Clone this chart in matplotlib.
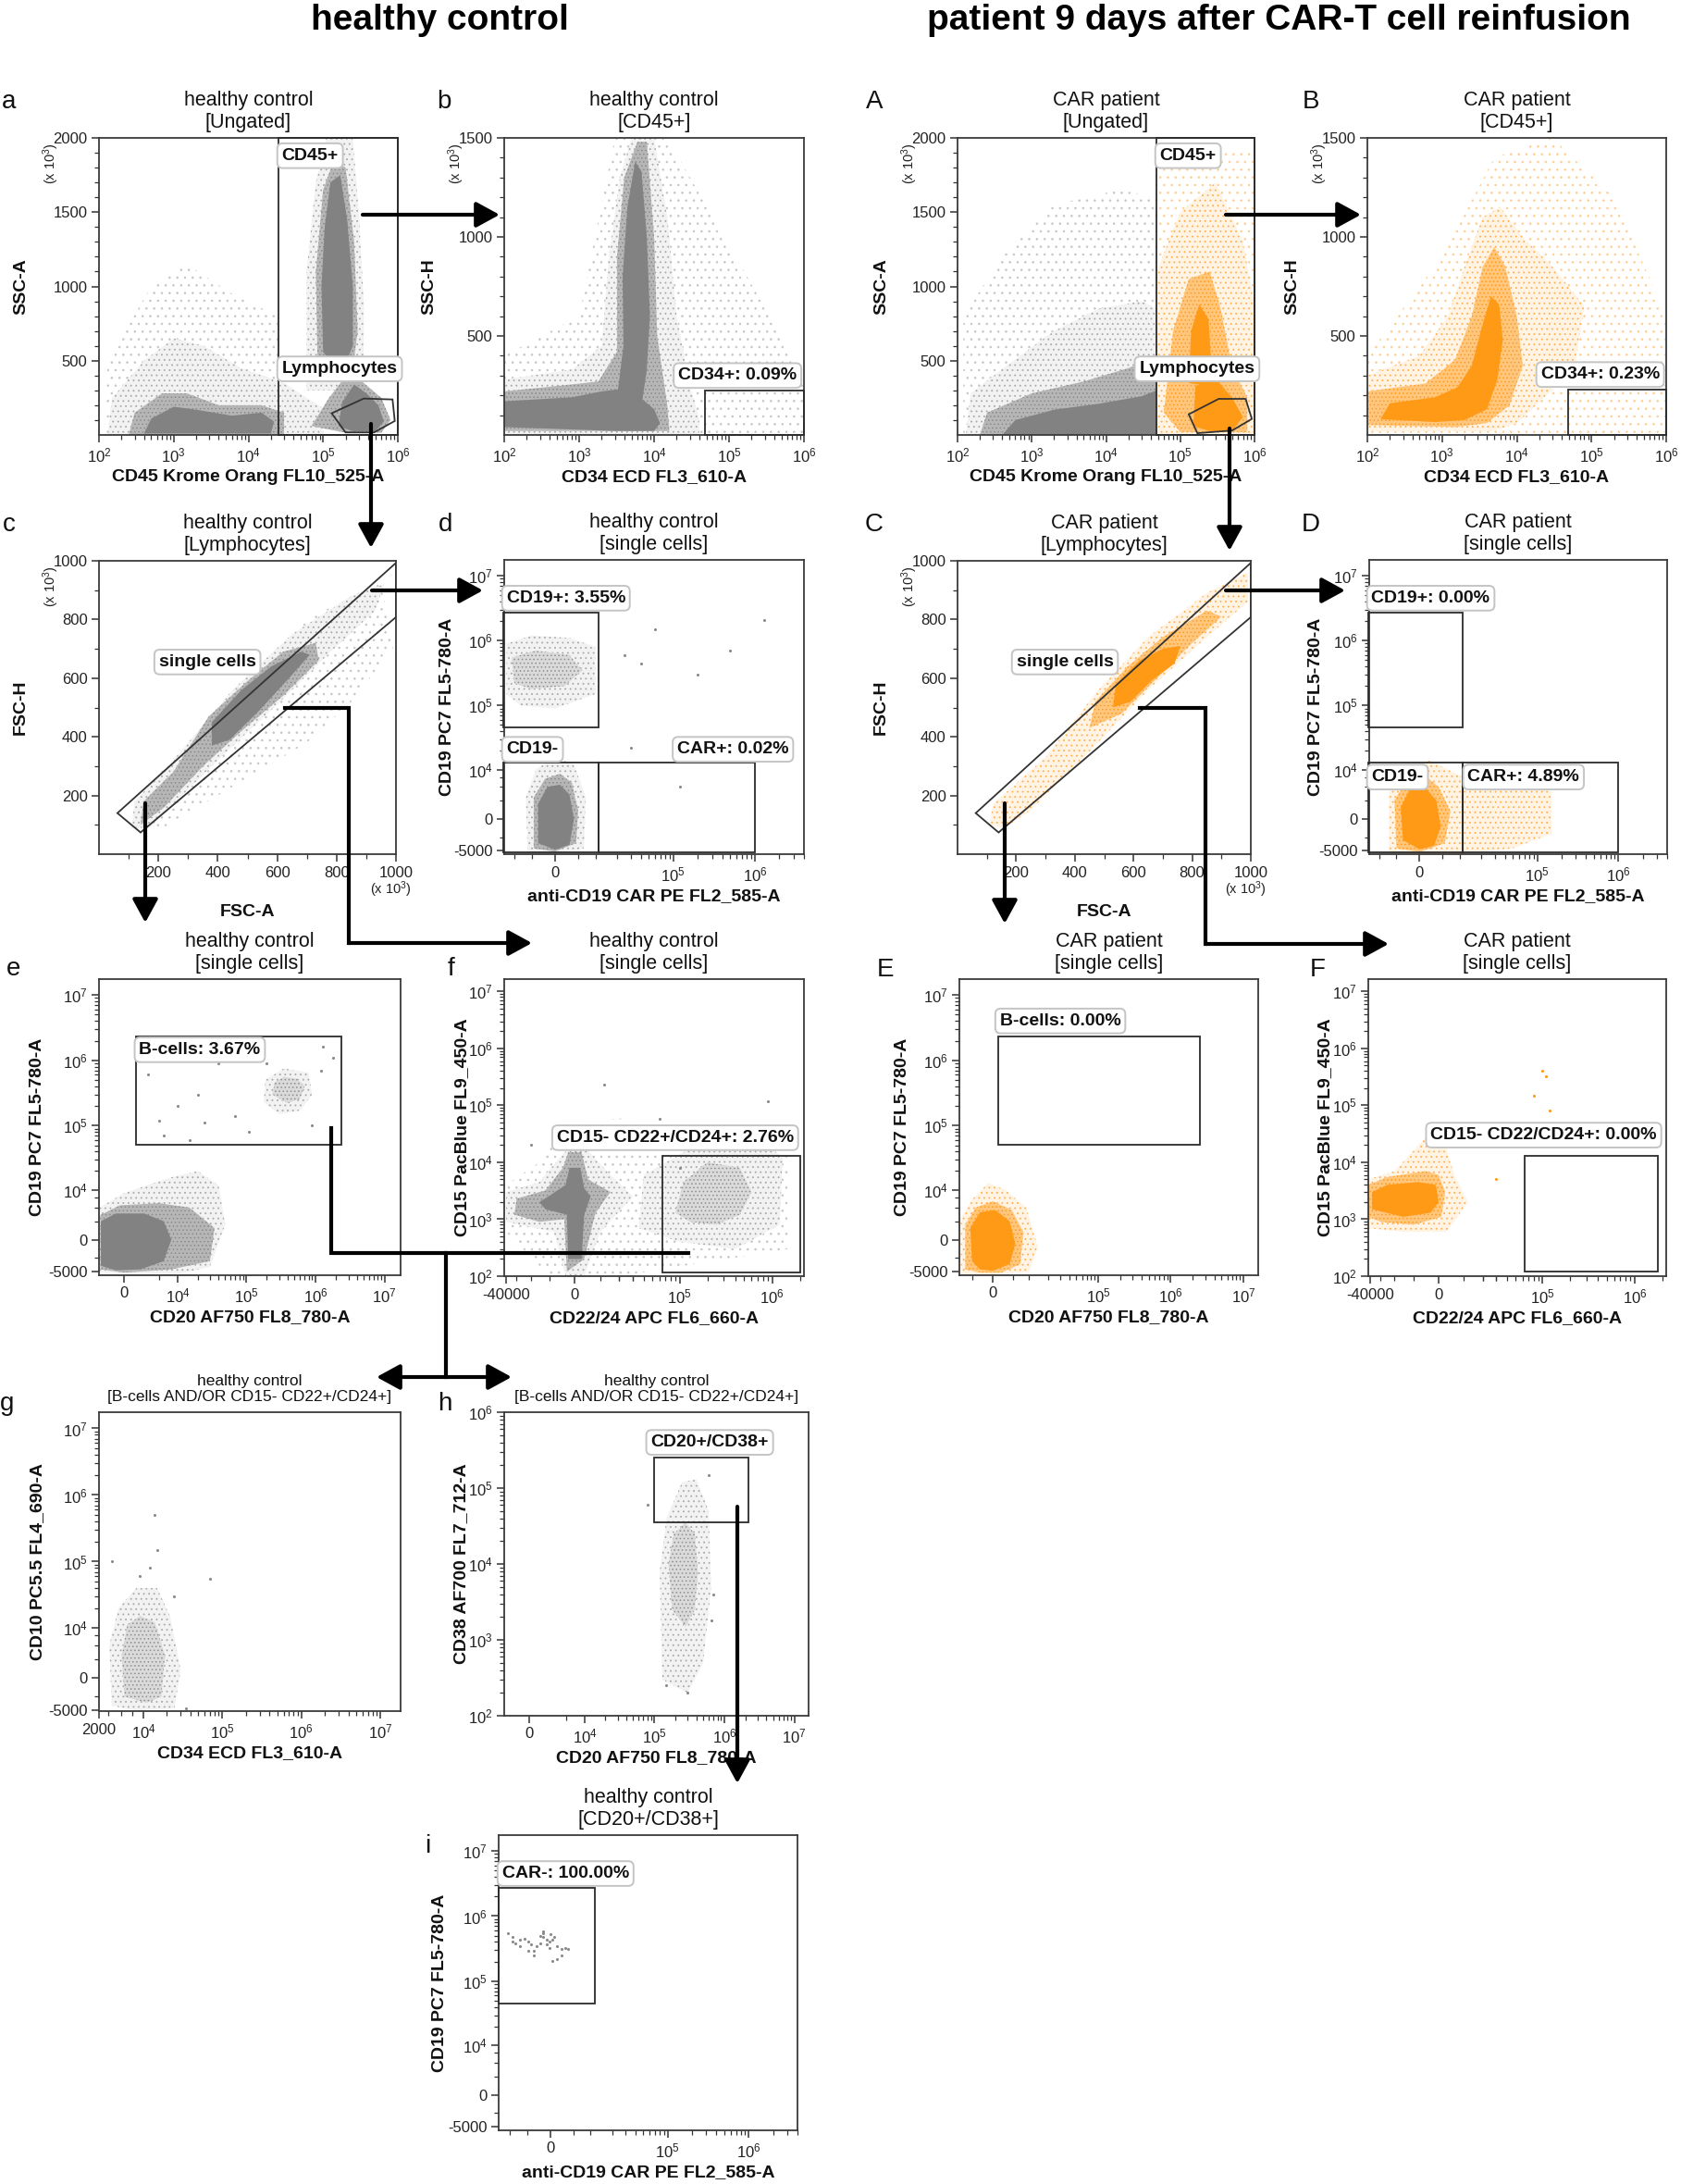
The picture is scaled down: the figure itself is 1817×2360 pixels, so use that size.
import numpy as np
import matplotlib
matplotlib.use("Agg")
import matplotlib.pyplot as plt
from matplotlib.patches import Polygon
from matplotlib.ticker import NullFormatter

W, H = 1817, 2360
plt.rcParams["font.family"] = ["Liberation Sans", "DejaVu Sans"]
plt.rcParams["mathtext.default"] = "regular"
plt.rcParams["hatch.linewidth"] = 0.6

# ---------------- populations (data units) ----------------
# a : healthy control, ungated (CD45 log / SSC-A x1000)
a_sparse = [(1.2e2, 0), (1.3e2, 500), (5e2, 1000), (1.5e3, 1150), (6e3, 950), (2.5e4, 800), (2.5e4, 0)]
a_debris_halo = [(1.3e2, 0), (1.5e2, 250), (4e2, 500), (1e3, 650), (2.5e3, 600), (8e3, 450), (3e4, 350), (6e4, 250), (1e5, 180), (1e5, 0)]
a_debris_mid = [(2.5e2, 0), (3e2, 150), (7e2, 280), (1.5e3, 280), (4e3, 200), (1.5e4, 200), (3e4, 150), (3e4, 0)]
a_debris_core = [(4e2, 10), (5e2, 110), (1e3, 190), (2e3, 170), (6e3, 130), (1.5e4, 150), (2.2e4, 90), (2e4, 10)]
a_gran_halo = [(6e4, 300), (6e4, 1100), (8e4, 1700), (1.1e5, 2000), (2.5e5, 2000), (3e5, 1500), (3.5e5, 900), (3.5e5, 300)]
a_gran_mid = [(8.5e4, 400), (8e4, 1100), (1e5, 1650), (1.4e5, 1850), (2e5, 1800), (2.6e5, 1300), (2.9e5, 700), (2.4e5, 380), (1.3e5, 360)]
a_gran_core = [(1.0e5, 560), (9.5e4, 1000), (1.05e5, 1400), (1.25e5, 1700), (1.7e5, 1750), (2.1e5, 1450), (2.5e5, 1000), (2.5e5, 600), (2e5, 480), (1.4e5, 470)]
a_lymph_mid = [(7e4, 60), (1.2e5, 250), (2.2e5, 420), (3.5e5, 350), (6e5, 250), (8e5, 100), (6e5, 15), (2e5, 15)]
a_lymph_core = [(1.6e5, 60), (1.8e5, 220), (2.6e5, 340), (3.8e5, 280), (5.5e5, 200), (6.5e5, 90), (5e5, 25), (2.5e5, 25)]
a_cd45_gate = [2.5e4, 1e6, 0, 2000]
a_lymph_gate = [(1.3e5, 146), (2.0e5, 17), (4.8e5, 17), (9.1e5, 94), (8.5e5, 239), (3.5e5, 245)]

# A : CAR patient, ungated
A_gray_sparse = [(1.2e2, 0), (1.2e2, 800), (4e2, 1200), (2e3, 1550), (1.5e4, 1650), (4.8e4, 1600), (4.8e4, 0)]
A_gray_halo = [(1.3e2, 0), (1.5e2, 280), (5e2, 480), (2e3, 700), (8e3, 850), (3e4, 900), (4.8e4, 850), (4.8e4, 0)]
A_gray_mid = [(2e2, 0), (2.5e2, 150), (1e3, 280), (5e3, 360), (2e4, 450), (4.8e4, 520), (4.8e4, 0)]
A_gray_core = [(4e2, 0), (6e2, 100), (2e3, 170), (8e3, 210), (3e4, 260), (4.8e4, 300), (4.8e4, 0)]
A_or_sparse = [(4.8e4, 0), (4.8e4, 1900), (9.8e5, 1900), (9.8e5, 0)]
A_or_halo = [(4.8e4, 0), (4.8e4, 1100), (1e5, 1500), (3e5, 1700), (7e5, 1300), (9.8e5, 900), (9.8e5, 0)]
A_or_mid = [(6e4, 150), (8e4, 700), (1.3e5, 1050), (2.5e5, 1100), (3.5e5, 850), (5e5, 450), (8e5, 250), (8e5, 20), (1e5, 20)]
A_or_core_stalk = [(1.3e5, 350), (1.4e5, 700), (1.8e5, 880), (2.4e5, 780), (2.6e5, 500), (2.4e5, 330)]
A_or_core_lymph = [(1.5e5, 60), (1.6e5, 330), (3e5, 380), (5e5, 250), (7e5, 120), (5e5, 30), (2.5e5, 25)]
A_cd45_gate = [4.8e4, 1e6, 0, 2000]
A_lymph_gate = [(1.3e5, 139), (1.7e5, 12), (5e5, 30), (9.2e5, 108), (7.6e5, 243), (3.3e5, 243)]

# b : healthy control, CD45+ (CD34 log / SSC-H x1000)
b_sparse = [(1e2, 0), (1e2, 400), (1e3, 600), (3e3, 1500), (1.5e4, 1500), (1e6, 300), (1e6, 0)]
b_halo = [(1e2, 0), (1e2, 280), (8e2, 330), (2e3, 450), (2.5e3, 900), (3.5e3, 1300), (5e3, 1500), (1e4, 1500), (1.5e4, 1100), (2e4, 600), (3e4, 250), (4e4, 80), (4e4, 0)]
b_mid = [(1e2, 20), (1e2, 220), (6e2, 250), (1.8e3, 270), (3.2e3, 420), (3.2e3, 900), (4e3, 1300), (6e3, 1480), (8e3, 1480), (1e4, 1000), (1.1e4, 500), (1.5e4, 150), (1.6e4, 20)]
b_core = [(1e2, 40), (1e2, 170), (8e2, 190), (2e3, 220), (3.3e3, 230), (3.9e3, 450), (3.8e3, 800), (4.4e3, 1150), (5.6e3, 1380), (6.8e3, 1330), (8e3, 1000), (8.8e3, 600), (8e3, 330), (7e3, 180), (1e4, 130), (1.2e4, 60), (1e4, 20), (3e3, 20)]
b_cd34_gate = [4.8e4, 1e6, 0, 226]

# B : CAR patient, CD45+
B_sparse = [(1e2, 0), (1e2, 400), (1e3, 900), (5e3, 1400), (3e4, 1500), (2e5, 1200), (1e6, 600), (1e6, 0)]
B_halo = [(1e2, 20), (1e2, 300), (5e2, 400), (1.2e3, 600), (2e3, 850), (3.5e3, 1100), (6e3, 1150), (1.2e4, 1000), (3e4, 850), (8e4, 650), (6e4, 350), (2.5e4, 200), (1e4, 60), (5e3, 20)]
B_mid = [(1e2, 50), (1e2, 220), (6e2, 260), (1.5e3, 380), (2.5e3, 600), (3.5e3, 850), (5e3, 950), (7e3, 850), (1e4, 600), (1.2e4, 350), (8e3, 150), (4e3, 60), (1.5e3, 40)]
B_core = [(1.5e2, 80), (2e2, 160), (8e2, 190), (1.6e3, 240), (2.5e3, 350), (3.5e3, 560), (4.5e3, 700), (5.8e3, 660), (6.5e3, 480), (5.5e3, 280), (4e3, 130), (2e3, 75), (8e2, 65)]
B_cd34_gate = [4.8e4, 1e6, 0, 229]

# c / C : lymphocytes (FSC-A / FSC-H x1000)
c_sparse = [(100, 80), (180, 250), (400, 480), (700, 800), (950, 930), (990, 700), (850, 520), (700, 380), (400, 200), (200, 80)]
c_halo = [(110, 90), (120, 180), (250, 320), (450, 560), (650, 750), (850, 880), (960, 920), (930, 830), (780, 690), (600, 510), (420, 340), (250, 170), (170, 90)]
c_mid = [(140, 100), (150, 180), (250, 280), (370, 470), (500, 590), (620, 690), (730, 720), (740, 660), (620, 540), (480, 420), (350, 300), (220, 160)]
c_core = [(380, 370), (380, 450), (480, 560), (580, 640), (680, 690), (710, 680), (640, 600), (540, 490), (440, 390)]
C_halo = [(110, 100), (120, 170), (300, 330), (480, 560), (650, 740), (850, 890), (990, 960), (990, 860), (850, 740), (650, 560), (450, 350), (250, 150), (160, 90)]
C_mid = [(450, 430), (470, 520), (580, 640), (700, 740), (850, 830), (900, 810), (800, 720), (680, 600), (560, 480)]
C_core = [(530, 500), (540, 580), (620, 660), (700, 700), (760, 710), (740, 650), (660, 590), (590, 520)]
single_gate = [(62, 140), (140, 74), (1000, 808), (1000, 993)]

# d / D : single cells (CAR PE / CD19 PC7)
d_cd19n_halo = [(-6000, -5500), (-6500, 3000), (-4000, 1e4), (0, 1.6e4), (4000, 1.2e4), (7000, 3000), (6500, -4500), (0, -5700)]
d_cd19n_mid = [(-4500, -4500), (-4500, 3000), (-2000, 7000), (1000, 8500), (3500, 6000), (5000, 1000), (4500, -3500), (0, -5200)]
d_cd19n_core = [(-3500, -3500), (-3500, 2000), (-1500, 5000), (1000, 5500), (3000, 3500), (4000, 0), (3000, -3800), (0, -4800)]
d_cd19p_halo = [(-13000, 1.5e5), (-13000, 9e5), (-5000, 1.2e6), (3000, 1.1e6), (1e4, 8e5), (1e4, 1.5e5), (0, 9e4), (-8000, 1e5)]
d_cd19p_mid = [(-10000, 2.2e5), (-11000, 5.5e5), (-4000, 7e5), (3000, 6e5), (6000, 3.5e5), (2000, 2e5), (-5000, 1.8e5)]
d_pts_x = [2.5e4, 4e4, 2e5, 1.3e6, 6e4, 3e4, 1.2e5, 5e5]
d_pts_y = [6e5, 4.5e5, 3e5, 2.1e6, 1.5e6, 2.2e4, 5e3, 7e5]
D_halo = [(-7000, -5500), (-7000, 4000), (-3000, 1e4), (2000, 1.4e4), (1e4, 8000), (5e4, 6000), (1.5e5, 4000), (1.5e5, -2000), (5e4, -4500), (1e4, -5700), (0, -5700)]
D_mid = [(-5000, -4500), (-5500, 2500), (-2500, 7000), (1000, 8000), (4000, 5000), (7000, 1000), (5500, -3500), (0, -5300)]
D_core = [(-3500, -3000), (-4000, 1500), (-2000, 4500), (1000, 5000), (3500, 2500), (4500, -1000), (3000, -4000), (0, -4700)]
cd19p_gate = [-1.45e4, 1.1e4, 4.6e4, 2.7e6]
cd19n_gate = [-1.45e4, 1.1e4, -5400, 1.3e4]
car_gate = [1.1e4, 1e6, -5400, 1.3e4]

# e / E : single cells (CD20 / CD19)
e_halo = [(-3200, -5200), (-3200, 5000), (0, 9000), (8000, 1.6e4), (2e4, 2e4), (4e4, 1.2e4), (5e4, 2000), (3e4, -4000), (1e4, -5500)]
e_mid = [(-3100, -4500), (-3100, 3500), (-500, 5500), (5000, 6000), (1.5e4, 5000), (3.5e4, 1500), (3e4, -3000), (8000, -4500), (0, -5200)]
e_core = [(-3000, -3800), (-3000, 2500), (-1000, 3800), (2500, 3800), (6000, 2500), (8000, 0), (6000, -3000), (2000, -4500), (-1000, -4700)]
e_bcell_mid = [(2.4e5, 3e5), (2.6e5, 4.6e5), (3.5e5, 5.6e5), (5.5e5, 5.2e5), (7e5, 4e5), (6e5, 2.6e5), (4e5, 2.2e5)]
e_bcell_halo = [(1.8e5, 2.3e5), (1.9e5, 5e5), (3.5e5, 7.5e5), (8e5, 6.5e5), (9e5, 3e5), (6e5, 1.7e5), (3e5, 1.5e5)]
e_pts_x = [1e4, 2e4, 6000, 1.3e6, 1.8e6, 7e4, 4e4, 3e3, 5e3, 1.1e5, 1.5e4, 2.5e4, 9e5, 1.2e6, 2e5, 1.4e5]
e_pts_y = [2e5, 3e5, 7e4, 1.6e6, 1.1e6, 1.4e5, 9e5, 6e5, 1.2e5, 8e4, 6e4, 1.1e5, 1e5, 7e5, 9e5, 1.1e6]
E_halo = [(-8500, -5500), (-8500, 3000), (-5000, 7000), (-1000, 1.3e4), (3000, 1e4), (9000, 5000), (1.4e4, -1000), (1e4, -5000), (0, -5600)]
E_mid = [(-7000, -4500), (-7000, 2000), (-4000, 5000), (0, 6500), (4500, 4500), (8000, 1000), (7000, -3500), (2000, -5200), (-3000, -5200)]
E_core = [(-5000, -3000), (-5500, 1500), (-3000, 4000), (500, 4500), (4000, 2500), (5500, -500), (4000, -3500), (0, -4800), (-3000, -4500)]
e_bcell_gate = [1.4e3, 2.4e6, 5.1e4, 2.3e6]
E_bcell_gate = [1.2e3, 2.5e6, 5.1e4, 2.3e6]

# f / F : single cells (CD22/24 APC / CD15 PacBlue)
f_sparse = [(-4e4, 6e2), (-4e4, 4e3), (-1.5e4, 1e4), (-5000, 4e4), (2e4, 6e4), (1e5, 2e4), (1.5e6, 3e4), (1.5e6, 3e2), (2e4, 1e2), (-1e4, 1e2)]
f_halo = [(-4e4, 9e2), (-4e4, 3e3), (-1.5e4, 4.5e3), (-4000, 1.5e4), (3000, 2e4), (1.5e4, 6e3), (3e4, 2.5e3), (1e4, 6e2), (3500, 1e2), (-3500, 1e2), (-8000, 6e2)]
f_mid = [(-3.2e4, 1.2e3), (-3e4, 2.3e3), (-1.2e4, 3.2e3), (-4500, 8e3), (-2500, 1.5e4), (2500, 1.5e4), (5000, 5e3), (1.5e4, 3e3), (8000, 1.3e3), (3500, 2e2), (-3000, 1.2e2), (-4000, 1e3), (-1.5e4, 9e2)]
f_core = [(-2500, 2e2), (-3000, 1.2e3), (-1.2e4, 1.5e3), (-1.5e4, 2e3), (-1e4, 2.6e3), (-3500, 4e3), (-2000, 8e3), (2000, 8e3), (3500, 3.5e3), (6000, 2.5e3), (3500, 1.2e3), (2500, 2e2)]
f_cd22_halo = [(3.5e4, 7e2), (4e4, 6e3), (1.5e5, 2e4), (6e5, 3.5e4), (1.3e6, 1.2e4), (1.2e6, 8e2), (4e5, 3e2), (1e5, 4e2)]
f_cd22_mid = [(9e4, 1.3e3), (1.1e5, 4.5e3), (2e5, 1e4), (4.5e5, 8e3), (6e5, 3e3), (4.5e5, 1.2e3), (2.5e5, 8e2), (1.3e5, 9e2)]
f_pts_x = [1.2e4, 6e4, 9e5, 1.3e6, -2e4, 3e5, 1e5]
f_pts_y = [2.3e5, 5.7e4, 1.2e5, 4e4, 2e4, 3e4, 8e3]
F_halo = [(-4.2e4, 7e2), (-4.2e4, 5e3), (-2e4, 7e3), (-4000, 3e4), (2000, 2.5e4), (6000, 6e3), (1.2e4, 2e3), (3000, 6e2), (-1.5e4, 6e2)]
F_mid = [(-4.2e4, 1.1e3), (-4.2e4, 4e3), (-2.5e4, 5.5e3), (-5000, 7e3), (0, 6e3), (2500, 3e3), (1000, 1.1e3), (-1e4, 8e2), (-3e4, 9e2)]
F_core = [(-3.8e4, 1.5e3), (-3.8e4, 3e3), (-2.5e4, 4e3), (-8000, 4.5e3), (-1000, 4e3), (0, 2e3), (-3000, 1.3e3), (-1.5e4, 1.1e3)]
F_pts_x = [1e5, 1.1e5, 1.2e5, 8e4, 4.5e4, 3e4]
F_pts_y = [4e5, 3.3e5, 8e4, 1.5e5, 2.5e4, 5e3]
f_gate = [6.5e4, 2e6, 116, 1.3e4]
F_gate = [6.3e4, 1.8e6, 120, 1.3e4]

# g : B-cells and/or CD15- CD22+/CD24+ (CD34 / CD10)
g_halo = [(3500, -4000), (3200, 5000), (4500, 2e4), (8000, 4e4), (1.5e4, 4e4), (2.2e4, 1.5e4), (3e4, 1000), (2.5e4, -4500), (8000, -5000)]
g_mid = [(5500, -2500), (5000, 3000), (6000, 1.1e4), (9000, 1.5e4), (1.4e4, 1.2e4), (1.9e4, 3000), (1.7e4, -2500), (1.1e4, -3500)]
g_pts_x = [1.4e4, 1.5e4, 7e4, 3500, 1.2e4, 2.5e4, 3.5e4, 9e3]
g_pts_y = [5e5, 1.5e5, 5.5e4, 1e5, 8e4, 3e4, -4500, 6e4]

# h : (CD20 / CD38)
h_halo = [(1.3e5, 3e2), (1.2e5, 8e3), (1.5e5, 4e4), (2.5e5, 1.2e5), (4e5, 1.3e5), (6e5, 5e4), (6.5e5, 5e3), (5e5, 5e2), (3e5, 2e2)]
h_mid = [(1.8e5, 2.5e3), (1.6e5, 1e4), (1.9e5, 2.5e4), (2.8e5, 3.5e4), (3.8e5, 2.5e4), (4.2e5, 8e3), (3.8e5, 2.5e3), (2.8e5, 1.5e3)]
h_pts_x = [8e4, 6e5, 7e5, 1.5e5, 3e5, 6.5e5]
h_pts_y = [6e4, 1.5e5, 4e3, 2.5e2, 2e2, 1.8e3]
h_gate = [1e5, 2.2e6, 3.5e4, 2.5e5]

# i : CD20+/CD38+ (CAR PE / CD19 PC7), individual events
i_pts_x = [-10800, -9200, -8200, -6800, -5600, -4800, -4100, -3400, -3400, -2700, -2000, -2000, -1400, -1400, -750, -750,
           -130, -130, 500, 500, 1450, 1450, 2400, 2400, 3100, 3800, -9200, -6800, -4800, -1400, 0, 800]
i_pts_y = [5.4e5, 4.75e5, 3.85e5, 4.3e5, 4.5e5, 4.06e5, 3.65e5, 2.95e5, 2.52e5, 3.46e5, 3.85e5, 5.0e5, 5.4e5, 4.75e5, 4.3e5, 3.65e5,
           3.28e5, 4.06e5, 2.04e5, 4.3e5, 3.46e5, 2.15e5, 3.11e5, 2.52e5, 3.28e5, 3.11e5, 4.06e5, 3.46e5, 2.95e5, 5.8e5, 5.2e5, 4.8e5]
i_gate = [-1.45e4, 1.15e4, 4.5e4, 2.7e6]

# ---------------- layout (pixels in the 1817 x 2360 canvas) ----------------
BOX = {"a": (107, 149, 430, 470), "b": (545, 149, 869, 470), "A": (1035, 149, 1356, 470), "B": (1478, 149, 1801, 470),
       "c": (107, 606, 428, 923), "d": (545, 605, 869, 923), "C": (1035, 606, 1352, 923), "D": (1480, 605, 1802, 923),
       "e": (107, 1058, 433, 1378), "f": (545, 1058, 869, 1379), "E": (1037, 1058, 1360, 1378), "F": (1479, 1058, 1801, 1379),
       "g": (107, 1526, 433, 1849), "h": (545, 1526, 874, 1854), "i": (539, 1983, 862, 2302)}
YLAB_OFF = {"a": 86, "b": 83, "A": 84, "B": 83, "c": 86, "C": 84, "d": 63, "D": 59,
            "e": 68, "E": 63, "f": 47, "F": 48, "g": 68, "h": 48, "i": 65}
LETTER_POS = {"a": (10, 110), "b": (480, 110), "A": (945, 110), "B": (1417, 110),
              "c": (10, 567), "d": (482, 567), "C": (945, 567), "D": (1417, 567),
              "e": (15, 1047), "f": (487, 1047), "E": (957, 1048), "F": (1424, 1048),
              "g": (8, 1517), "h": (481, 1517), "i": (462, 1995)}


def dec(n):
    return r"$10^{%d}$" % n


def log_minor(lo, hi):
    return [k * 10.0 ** n for n in range(lo, hi) for k in range(2, 10)]


STY = {
    "gray": {"sparse": dict(fc="none", ec="#c6c6c6", hatch=".."),
             "halo": dict(fc="#f2f2f2", ec="#a9a9a9", hatch="..."),
             "speck": dict(fc="#dadada", ec="#8e8e8e", hatch="...."),
             "mid": dict(fc="#b6b6b6", ec="#8a8a8a", hatch="...."),
             "core": dict(fc="#828282", ec="none")},
    "orange": {"sparse": dict(fc="none", ec="#ffcd94", hatch=".."),
               "halo": dict(fc="#fff3e4", ec="#ffb050", hatch="..."),
               "speck": dict(fc="#ffe0b8", ec="#ffa030", hatch="...."),
               "mid": dict(fc="#ffc67c", ec="#ff9c20", hatch="...."),
               "core": dict(fc="#ff9a16", ec="none")},
}
LEVEL_Z = {"sparse": 1.0, "halo": 1.1, "speck": 1.15, "mid": 1.2, "core": 1.3}
COL = {"gray": "#8a8a8a", "orange": "#ff9a16"}

fig = plt.figure(figsize=(W / 100, H / 100), dpi=100)
fig.patch.set_facecolor("white")


def set_scale(ax, which, s):
    setter = ax.set_xscale if which == "x" else ax.set_yscale
    if s in ("log", "linear"):
        setter(s)
    else:
        setter("function", functions=(lambda v, c=s: np.arcsinh(np.asarray(v, dtype=float) / c),
                                      lambda v, c=s: c * np.sinh(np.asarray(v, dtype=float))))


def panel(name, xs, ys, xlim, ylim, xt, xtl, xmin, yt, ytl, ymin, xlabel, ylabel, title, small_title=False):
    x0, y0, x1, y1 = BOX[name]
    w, h = x1 - x0, y1 - y0
    ax = fig.add_axes([x0 / W, 1 - y1 / H, w / W, h / H])
    set_scale(ax, "x", xs)
    set_scale(ax, "y", ys)
    ax.set_xlim(*xlim)
    ax.set_ylim(*ylim)
    ax.set_xticks(xt, labels=xtl)
    ax.set_xticks(xmin, minor=True)
    ax.set_yticks(yt, labels=ytl)
    ax.set_yticks(ymin, minor=True)
    ax.xaxis.set_minor_formatter(NullFormatter())
    ax.yaxis.set_minor_formatter(NullFormatter())
    ax.set_xlim(*xlim)
    ax.set_ylim(*ylim)
    ax.tick_params(which="major", direction="out", length=6, width=1.1, labelsize=12, pad=3,
                   color="#333333", labelcolor="#222222")
    ax.tick_params(which="minor", direction="out", length=3.5, width=0.9, color="#333333")
    for sp in ax.spines.values():
        sp.set_color("#3a3a3a")
        sp.set_linewidth(1.3)
    ax.set_xlabel(xlabel, fontsize=14, fontweight="bold", color="#111111")
    ax.set_ylabel(ylabel, fontsize=14, fontweight="bold", color="#111111")
    xoff = 54 if name in ("c", "C") else 37
    ax.xaxis.set_label_coords(0.5, -xoff / h)
    ax.yaxis.set_label_coords(-(YLAB_OFF[name] - 10) / w, 0.5)
    if small_title:
        fig.text((x0 + x1) / 2 / W, 1 - (y0 - 25) / H, title, ha="center", va="center",
                 fontsize=12.5, linespacing=1.15, color="#111111")
    else:
        fig.text((x0 + x1) / 2 / W, 1 - (y0 - 28.5) / H, title, ha="center", va="center",
                 fontsize=15.5, linespacing=1.2, color="#111111")
    lx, ly = LETTER_POS[name]
    fig.text(lx / W, 1 - ly / H, name, ha="center", va="center", fontsize=20, color="#111111")
    return ax


def cloud(ax, color, **levels):
    for lev in ("sparse", "halo", "speck", "mid", "core"):
        for p in levels.get(lev, []):
            ax.add_patch(Polygon(p, closed=True, lw=0, zorder=LEVEL_Z[lev], **STY[color][lev]))


def dots(ax, xs, ys, color):
    ax.scatter(xs, ys, s=5, c=COL[color], linewidths=0, zorder=1.5)


def rect_gate(ax, g):
    x0, x1, y0, y1 = g
    ax.add_patch(Polygon([(x0, y0), (x0, y1), (x1, y1), (x1, y0)], closed=True, fill=False,
                         ec="#2b2b2b", lw=1.3, zorder=4, clip_on=False))


def poly_gate(ax, pts):
    ax.add_patch(Polygon(pts, closed=True, fill=False, ec="#333333", lw=1.3, zorder=4))


def gate_label(ax, x, y, s, ha="left"):
    ax.text(x, y, s, ha=ha, va="center", fontsize=14, fontweight="bold", color="#111111", zorder=6,
            bbox=dict(boxstyle="round,pad=0.25,rounding_size=0.3", fc="white", ec="#c4c4c4", lw=1.4))


def x1000(ax, name, also_x=False):
    x0, y0, x1, y1 = BOX[name]
    w, h = x1 - x0, y1 - y0
    ax.text(-52 / w, 1 - 28 / h, r"(x $10^{3}$)", rotation=90, ha="center", va="center",
            fontsize=10.5, transform=ax.transAxes, color="#222222")
    if also_x:
        ax.text(1 - 6 / w, -38 / h, r"(x $10^{3}$)", ha="center", va="center",
                fontsize=10.5, transform=ax.transAxes, color="#222222")


# shared axis definitions
LOGX = ([1e2, 1e3, 1e4, 1e5, 1e6], [dec(2), dec(3), dec(4), dec(5), dec(6)], log_minor(2, 6))
CDY = ([-5000, 0, 1e4, 1e5, 1e6, 1e7], ["-5000", "0", dec(4), dec(5), dec(6), dec(7)],
       [-2500, 2500, 5000, 7500] + log_minor(4, 8))
CARX = ([0, 1e5, 1e6], ["0", dec(5), dec(6)], [-1e4, -5000, 5000, 1e4] + log_minor(4, 7))
LOGY7 = ([1e2, 1e3, 1e4, 1e5, 1e6, 1e7], [dec(2), dec(3), dec(4), dec(5), dec(6), dec(7)], log_minor(2, 8))
CD22X = ([-40000, 0, 1e5, 1e6], ["-40000", "0", dec(5), dec(6)], [-3e4, -2e4, -1e4, 1e4, 2e4, 3e4] + log_minor(4, 7))
FSC = ([200, 400, 600, 800, 1000], ["200", "400", "600", "800", "1000"], [100, 300, 500, 700, 900])

# ---- a ----
ax = panel("a", "log", "linear", (1e2, 1e6), (0, 2000), *LOGX,
           [500, 1000, 1500, 2000], ["500", "1000", "1500", "2000"], [v for v in range(100, 2000, 100) if v % 500],
           "CD45 Krome Orang FL10_525-A", "SSC-A", "healthy control\n[Ungated]")
cloud(ax, "gray", sparse=[a_sparse], halo=[a_debris_halo, a_gran_halo], mid=[a_debris_mid, a_gran_mid, a_lymph_mid],
      core=[a_debris_core, a_gran_core, a_lymph_core])
rect_gate(ax, a_cd45_gate)
poly_gate(ax, a_lymph_gate)
gate_label(ax, 2.8e4, 1880, "CD45+")
gate_label(ax, 2.8e4, 445, "Lymphocytes")
x1000(ax, "a")

# ---- A ----
ax = panel("A", "log", "linear", (1e2, 1e6), (0, 2000), *LOGX,
           [500, 1000, 1500, 2000], ["500", "1000", "1500", "2000"], [v for v in range(100, 2000, 100) if v % 500],
           "CD45 Krome Orang FL10_525-A", "SSC-A", "CAR patient\n[Ungated]")
cloud(ax, "gray", sparse=[A_gray_sparse], halo=[A_gray_halo], mid=[A_gray_mid], core=[A_gray_core])
cloud(ax, "orange", sparse=[A_or_sparse], halo=[A_or_halo], mid=[A_or_mid], core=[A_or_core_stalk, A_or_core_lymph])
rect_gate(ax, A_cd45_gate)
poly_gate(ax, A_lymph_gate)
gate_label(ax, 5.3e4, 1880, "CD45+")
gate_label(ax, 2.8e4, 445, "Lymphocytes")
x1000(ax, "A")

# ---- b ----
ax = panel("b", "log", "linear", (1e2, 1e6), (0, 1500), *LOGX,
           [500, 1000, 1500], ["500", "1000", "1500"], [v for v in range(100, 1500, 100) if v % 500],
           "CD34 ECD FL3_610-A", "SSC-H", "healthy control\n[CD45+]")
cloud(ax, "gray", sparse=[b_sparse], halo=[b_halo], mid=[b_mid], core=[b_core])
rect_gate(ax, b_cd34_gate)
gate_label(ax, 2.1e4, 300, "CD34+: 0.09%")
x1000(ax, "b")

# ---- B ----
ax = panel("B", "log", "linear", (1e2, 1e6), (0, 1500), *LOGX,
           [500, 1000, 1500], ["500", "1000", "1500"], [v for v in range(100, 1500, 100) if v % 500],
           "CD34 ECD FL3_610-A", "SSC-H", "CAR patient\n[CD45+]")
cloud(ax, "orange", sparse=[B_sparse], halo=[B_halo], mid=[B_mid], core=[B_core])
rect_gate(ax, B_cd34_gate)
gate_label(ax, 2.1e4, 305, "CD34+: 0.23%")
x1000(ax, "B")

# ---- c ----
ax = panel("c", "linear", "linear", (0, 1000), (0, 1000), *FSC, *FSC,
           "FSC-A", "FSC-H", "healthy control\n[Lymphocytes]")
cloud(ax, "gray", sparse=[c_sparse], halo=[c_halo], mid=[c_mid], core=[c_core])
poly_gate(ax, single_gate)
gate_label(ax, 365, 655, "single cells", ha="center")
x1000(ax, "c", also_x=True)

# ---- C ----
ax = panel("C", "linear", "linear", (0, 1000), (0, 1000), *FSC, *FSC,
           "FSC-A", "FSC-H", "CAR patient\n[Lymphocytes]")
cloud(ax, "orange", halo=[C_halo], mid=[C_mid], core=[C_core])
poly_gate(ax, single_gate)
gate_label(ax, 366, 655, "single cells", ha="center")
x1000(ax, "C", also_x=True)

# ---- d ----
ax = panel("d", 7100, 3600, (-1.4e4, 4e6), (-5800, 1.75e7), *CARX, *CDY,
           "anti-CD19 CAR PE FL2_585-A", "CD19 PC7 FL5-780-A", "healthy control\n[single cells]")
cloud(ax, "gray", halo=[d_cd19n_halo, d_cd19p_halo], speck=[d_cd19p_mid], mid=[d_cd19n_mid], core=[d_cd19n_core])
dots(ax, d_pts_x, d_pts_y, "gray")
rect_gate(ax, cd19p_gate)
rect_gate(ax, cd19n_gate)
rect_gate(ax, car_gate)
gate_label(ax, -1.3e4, 4.5e6, "CD19+: 3.55%")
gate_label(ax, -1.3e4, 2.1e4, "CD19-")
gate_label(ax, 2.6e6, 2.1e4, "CAR+: 0.02%", ha="right")

# ---- D ----
ax = panel("D", 7100, 3600, (-1.4e4, 4e6), (-5800, 1.75e7), *CARX, *CDY,
           "anti-CD19 CAR PE FL2_585-A", "CD19 PC7 FL5-780-A", "CAR patient\n[single cells]")
cloud(ax, "orange", halo=[D_halo], mid=[D_mid], core=[D_core])
rect_gate(ax, cd19p_gate)
rect_gate(ax, cd19n_gate)
rect_gate(ax, car_gate)
gate_label(ax, -1.3e4, 4.5e6, "CD19+: 0.00%")
gate_label(ax, -1.3e4, 7500, "CD19-")
gate_label(ax, 1.3e4, 7500, "CAR+: 4.89%")

# ---- e ----
ax = panel("e", 3500, 3600, (-3300, 1.7e7), (-5800, 1.75e7),
           [0, 1e4, 1e5, 1e6, 1e7], ["0", dec(4), dec(5), dec(6), dec(7)], [5000] + log_minor(4, 8),
           *CDY, "CD20 AF750 FL8_780-A", "CD19 PC7 FL5-780-A", "healthy control\n[single cells]")
cloud(ax, "gray", halo=[e_halo, e_bcell_halo], speck=[e_bcell_mid], mid=[e_mid], core=[e_core])
dots(ax, e_pts_x, e_pts_y, "gray")
rect_gate(ax, e_bcell_gate)
gate_label(ax, 1.8e3, 1.45e6, "B-cells: 3.67%")

# ---- E ----
ax = panel("E", 7100, 3600, (-9000, 1.6e7), (-5800, 1.75e7),
           [0, 1e5, 1e6, 1e7], ["0", dec(5), dec(6), dec(7)], [-5000, 5000, 1e4] + log_minor(4, 8),
           *CDY, "CD20 AF750 FL8_780-A", "CD19 PC7 FL5-780-A", "CAR patient\n[single cells]")
cloud(ax, "orange", halo=[E_halo], mid=[E_mid], core=[E_core])
rect_gate(ax, E_bcell_gate)
gate_label(ax, 1.6e3, 4e6, "B-cells: 0.00%")

# ---- f ----
ax = panel("f", 15000, "log", (-4.2e4, 2.2e6), (1e2, 1.65e7), *CD22X, *LOGY7,
           "CD22/24 APC FL6_660-A", "CD15 PacBlue FL9_450-A", "healthy control\n[single cells]")
cloud(ax, "gray", sparse=[f_sparse], halo=[f_halo, f_cd22_halo], speck=[f_cd22_mid], mid=[f_mid], core=[f_core])
dots(ax, f_pts_x, f_pts_y, "gray")
rect_gate(ax, f_gate)
gate_label(ax, -7000, 2.7e4, "CD15- CD22+/CD24+: 2.76%")

# ---- F ----
ax = panel("F", 15000, "log", (-4.2e4, 2.2e6), (1e2, 1.65e7), *CD22X, *LOGY7,
           "CD22/24 APC FL6_660-A", "CD15 PacBlue FL9_450-A", "CAR patient\n[single cells]")
cloud(ax, "orange", halo=[F_halo], mid=[F_mid], core=[F_core])
dots(ax, F_pts_x, F_pts_y, "orange")
rect_gate(ax, F_gate)
gate_label(ax, -3000, 3e4, "CD15- CD22/CD24+: 0.00%")

# ---- g ----
ax = panel("g", 3000, 3600, (2000, 1.8e7), (-5100, 1.75e7),
           [2000, 1e4, 1e5, 1e6, 1e7], ["2000", dec(4), dec(5), dec(6), dec(7)], [3000, 5000, 7000] + log_minor(4, 8),
           *CDY, "CD34 ECD FL3_610-A", "CD10 PC5.5 FL4_690-A",
           "healthy control\n[B-cells AND/OR CD15- CD22+/CD24+]", small_title=True)
cloud(ax, "gray", halo=[g_halo], speck=[g_mid])
dots(ax, g_pts_x, g_pts_y, "gray")

# ---- h ----
ax = panel("h", 3300, "log", (-3050, 1.6e7), (1e2, 1e6),
           [0, 1e4, 1e5, 1e6, 1e7], ["0", dec(4), dec(5), dec(6), dec(7)], [5000] + log_minor(4, 8),
           [1e2, 1e3, 1e4, 1e5, 1e6], [dec(2), dec(3), dec(4), dec(5), dec(6)], log_minor(2, 6),
           "CD20 AF750 FL8_780-A", "CD38 AF700 FL7_712-A",
           "healthy control\n[B-cells AND/OR CD15- CD22+/CD24+]", small_title=True)
cloud(ax, "gray", halo=[h_halo], speck=[h_mid])
dots(ax, h_pts_x, h_pts_y, "gray")
rect_gate(ax, h_gate)
gate_label(ax, 6.2e5, 4e5, "CD20+/CD38+", ha="center")

# ---- i ----
ax = panel("i", 7100, 3600, (-1.45e4, 4e6), (-5800, 1.75e7), *CARX, *CDY,
           "anti-CD19 CAR PE FL2_585-A", "CD19 PC7 FL5-780-A", "healthy control\n[CD20+/CD38+]")
dots(ax, i_pts_x, i_pts_y, "gray")
rect_gate(ax, i_gate)
gate_label(ax, -1.3e4, 4.5e6, "CAR-: 100.00%")

# ---------------- headers ----------------
fig.text(475 / W, 1 - 32 / H, "healthy control", ha="center", va="baseline", fontsize=28, fontweight="bold")
fig.text(1382 / W, 1 - 32 / H, "patient 9 days after CAR-T cell reinfusion", ha="center", va="baseline",
         fontsize=28, fontweight="bold")

# ---------------- gating arrows (figure pixels) ----------------
ov = fig.add_axes([0, 0, 1, 1], zorder=20)
ov.set_xlim(0, W)
ov.set_ylim(H, 0)
ov.axis("off")
HEAD = "-|>,head_length=0.55,head_width=0.3"


def arrow(pts, both=False):
    xs = [p[0] for p in pts]
    ys = [p[1] for p in pts]
    if len(pts) > 2:
        ov.plot(xs[:-1], ys[:-1], color="black", lw=3, solid_joinstyle="miter", solid_capstyle="projecting")
    style = "<|-|>,head_length=0.55,head_width=0.3" if both else HEAD
    ov.annotate("", xy=pts[-1], xytext=pts[-2],
                arrowprops=dict(arrowstyle=style, lw=3, color="black", shrinkA=0, shrinkB=0, mutation_scale=28))


def line(pts):
    ov.plot([p[0] for p in pts], [p[1] for p in pts], color="black", lw=3, solid_joinstyle="miter")


arrow([(392, 232), (540, 232)])
arrow([(401, 458), (401, 592)])
arrow([(402, 638), (522, 638)])
arrow([(157, 868), (157, 997)])
arrow([(308, 765), (377, 765), (377, 1019), (575, 1019)])
arrow([(1325, 232), (1471, 232)])
arrow([(1329, 463), (1329, 595)])
arrow([(1325, 638), (1454, 638)])
arrow([(1086, 868), (1086, 998)])
arrow([(1232, 765), (1303, 765), (1303, 1020), (1501, 1020)])
line([(358, 1219), (358, 1354), (744, 1354)])
line([(482, 1354), (482, 1488)])
arrow([(407, 1488), (553, 1488)], both=True)
arrow([(797, 1628), (797, 1927)])

fig.savefig("out.png", dpi=100)
